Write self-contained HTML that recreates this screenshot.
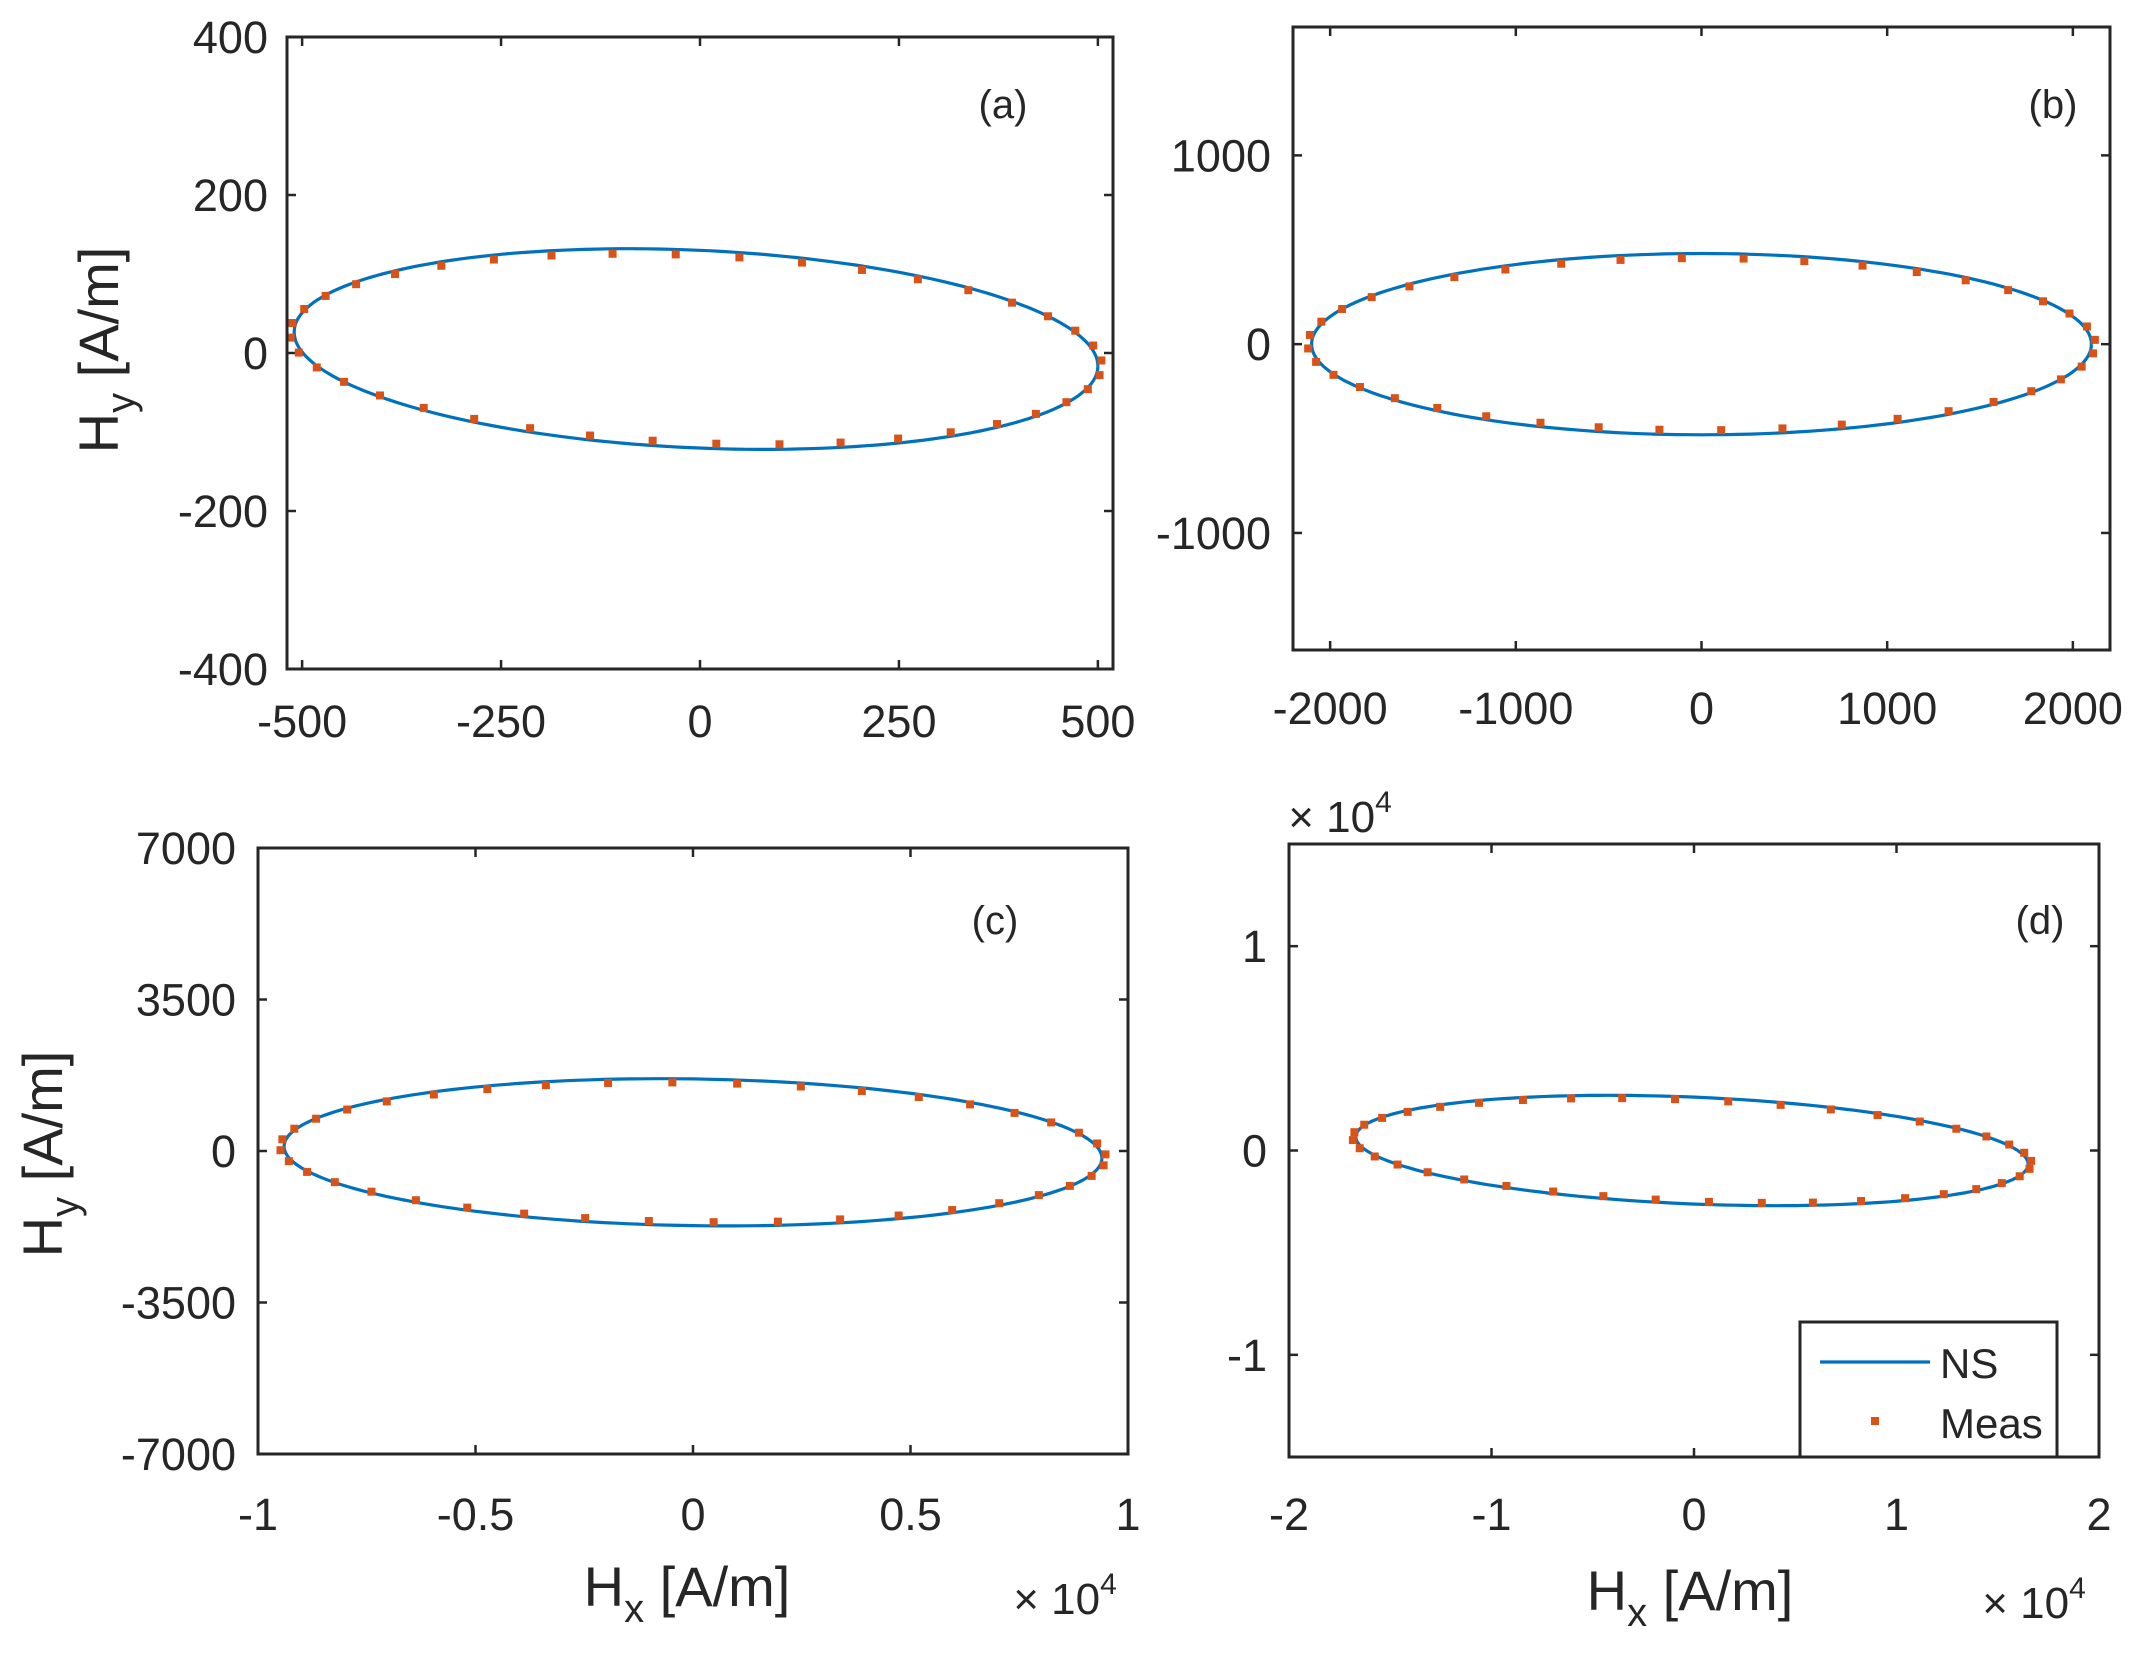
<!DOCTYPE html>
<html><head><meta charset="utf-8"><style>
html,body{margin:0;padding:0;background:#fff}
svg text{font-family:"Liberation Sans",Arial,sans-serif;fill:#262626}
</style></head><body>
<svg id="s" xmlns="http://www.w3.org/2000/svg" width="2155" height="1662" viewBox="0 0 2155 1662"></svg>
<script>
const S=document.getElementById('s');let h='';
function panel(o){
 const {L,R,T,B,x0,x1,y0,y1,xt,yt,xl,yl,lab,Ac,Bc,phi,cx,cy,yLabX,yLabY,tylx,txly,dots}=o;
 const X=v=>L+(v-x0)/(x1-x0)*(R-L), Y=v=>B-(v-y0)/(y1-y0)*(B-T);
 xt.forEach((v,i)=>{const px=X(v);h+=`<line x1="${px}" y1="${B}" x2="${px}" y2="${B-9}" stroke="#262626" stroke-width="2.5"/><line x1="${px}" y1="${T}" x2="${px}" y2="${T+9}" stroke="#262626" stroke-width="2.5"/><text x="${px}" y="${txly}" font-size="45" text-anchor="middle">${xl[i]}</text>`;});
 yt.forEach((v,i)=>{const py=Y(v);h+=`<line x1="${L}" y1="${py}" x2="${L+9}" y2="${py}" stroke="#262626" stroke-width="2.5"/><line x1="${R}" y1="${py}" x2="${R-9}" y2="${py}" stroke="#262626" stroke-width="2.5"/><text x="${tylx}" y="${py+16}" font-size="45" text-anchor="end">${yl[i]}</text>`;});
 let d='';for(let i=0;i<=200;i++){const t=i/200*2*Math.PI;const x=cx+Ac*Math.cos(t),y=cy+Bc*Math.sin(t+phi);d+=(i?'L':'M')+X(x).toFixed(1)+','+Y(y).toFixed(1);}
 h+=`<path d="${d}" fill="none" stroke="#0072BD" stroke-width="3.2"/>`;
 for(let i=0;i<dots;i++){const t=i/dots*2*Math.PI+0.05;const x=cx+Ac*1.01*Math.cos(t),y=cy+Bc*0.95*Math.sin(t+phi);h+=`<rect x="${X(x)-4}" y="${Y(y)-4}" width="8" height="8" fill="#D95319"/>`;}
 h+=`<rect x="${L}" y="${T}" width="${R-L}" height="${B-T}" fill="none" stroke="#262626" stroke-width="3"/>`;
 h+=`<text x="${lab[0]}" y="${lab[1]}" font-size="40" text-anchor="middle">${lab[2]}</text>`;
 if(yLabX) h+=`<text transform="translate(${yLabX},${yLabY}) rotate(-90)" font-size="56" text-anchor="middle">H<tspan font-size="40" dy="16">y</tspan><tspan dy="-16"> [A/m]</tspan></text>`;
}
panel({L:287,R:1113,T:37,B:669,x0:-519,x1:519,y0:-400,y1:400,xt:[-500,-250,0,250,500],xl:['-500','-250','0','250','500'],yt:[-400,-200,0,200,400],yl:['-400','-200','0','200','400'],lab:[1003,118,'(a)'],Ac:505,Bc:127,phi:-0.17,cx:-5,cy:5,yLabX:118,yLabY:350,tylx:268,txly:737,dots:40});
panel({L:1293,R:2110,T:27,B:650,x0:-2200,x1:2200,y0:-1620,y1:1680,xt:[-2000,-1000,0,1000,2000],xl:['-2000','-1000','0','1000','2000'],yt:[-1000,0,1000],yl:['-1000','0','1000'],lab:[2053,118,'(b)'],Ac:2100,Bc:480,phi:0,cx:0,cy:0,tylx:1271,txly:724,dots:40});
panel({L:258,R:1128,T:848,B:1454,x0:-10000,x1:10000,y0:-7000,y1:7000,xt:[-10000,-5000,0,5000,10000],xl:['-1','-0.5','0','0.5','1'],yt:[-7000,-3500,0,3500,7000],yl:['-7000','-3500','0','3500','7000'],lab:[995,934,'(c)'],Ac:9400,Bc:1700,phi:-0.08,cx:0,cy:-30,yLabX:62,yLabY:1154,tylx:236,txly:1530,dots:40});
panel({L:1289,R:2099,T:844,B:1457,x0:-2,x1:2,y0:-1.5,y1:1.5,xt:[-2,-1,0,1,2],xl:['-2','-1','0','1','2'],yt:[-1,0,1],yl:['-1','0','1'],lab:[2040,934,'(d)'],Ac:1.66,Bc:0.27,phi:-0.25,cx:-0.01,cy:0,tylx:1267,txly:1530,dots:40});
[[687,1606],[1690,1610]].forEach(p=>{h+=`<text x="${p[0]}" y="${p[1]}" font-size="56" text-anchor="middle">H<tspan font-size="40" dy="16">x</tspan><tspan dy="-16"> [A/m]</tspan></text>`;});
[[1065,1614],[2034,1618],[1340,832]].forEach(p=>{h+=`<text x="${p[0]}" y="${p[1]}" font-size="44" text-anchor="middle" fill="#333">× 10<tspan font-size="30" dy="-20">4</tspan></text>`;});
h+=`<rect x="1800" y="1322" width="257" height="135" fill="#fff" stroke="#262626" stroke-width="3"/><line x1="1820" y1="1362" x2="1930" y2="1362" stroke="#0072BD" stroke-width="3.2"/><text x="1940" y="1378" font-size="42">NS</text><rect x="1871" y="1417" width="8" height="8" fill="#D95319"/><text x="1940" y="1438" font-size="42">Meas</text>`;
S.innerHTML=h;
</script>
</body></html>
